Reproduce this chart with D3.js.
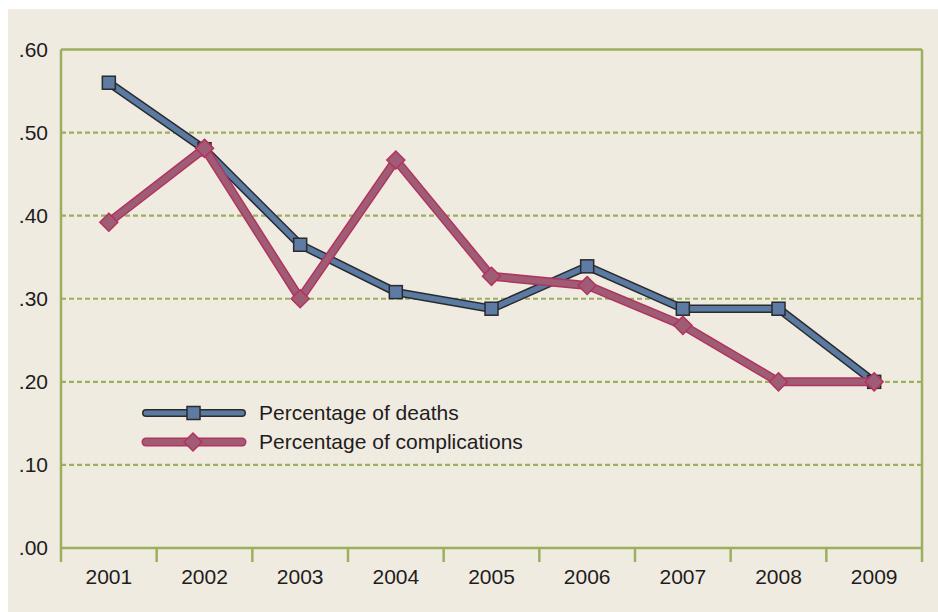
<!DOCTYPE html>
<html><head><meta charset="utf-8">
<script src="https://cdn.jsdelivr.net/npm/d3@7"></script>
<style>html,body{margin:0;padding:0;background:#fff;}svg{display:block;}</style>
</head><body>
<script>
const years = ["2001","2002","2003","2004","2005","2006","2007","2008","2009"];
const deaths = [0.56, 0.48, 0.365, 0.308, 0.288, 0.339, 0.288, 0.288, 0.20];
const complications = [0.392, 0.481, 0.30, 0.467, 0.327, 0.316, 0.268, 0.20, 0.20];
const yTicks = [0, 0.1, 0.2, 0.3, 0.4, 0.5, 0.6];
const seriesNames = ["Percentage of deaths", "Percentage of complications"];

const W = 938, H = 612;
const m = {left: 61, right: 922, top: 49.5, bottom: 548};
const svg = d3.select("body").append("svg").attr("width", W).attr("height", H);
svg.append("rect").attr("x", 8).attr("y", 9).attr("width", W - 8).attr("height", H - 9).attr("fill", "#efebe1");

const x = d3.scaleBand().domain(years).range([m.left, m.right]);
const y = d3.scaleLinear().domain([0, 0.6]).range([m.bottom, m.top]);
const olive = "#9daf5f";
const font = "Liberation Sans, Arial, sans-serif";
const fs = 21;
const txt = "#1f1c1d";

// grid
svg.append("g").selectAll("line").data(yTicks.filter(d => d > 0 && d < 0.6)).join("line")
  .attr("x1", m.left).attr("x2", m.right)
  .attr("y1", d => y(d)).attr("y2", d => y(d))
  .attr("stroke", olive).attr("stroke-width", 2.2).attr("stroke-dasharray", "5,3");

// frame top/right
svg.append("line").attr("x1", m.left).attr("x2", m.right).attr("y1", m.top).attr("y2", m.top)
  .attr("stroke", olive).attr("stroke-width", 2.5);
svg.append("line").attr("x1", m.right).attr("x2", m.right).attr("y1", m.top).attr("y2", m.bottom + 14)
  .attr("stroke", olive).attr("stroke-width", 2.5);

// y axis
const yAxis = svg.append("g").attr("transform", `translate(${m.left},0)`)
  .call(d3.axisLeft(y).tickValues(yTicks).tickSize(0).tickPadding(13)
    .tickFormat(d => d3.format(".2f")(d).replace(/^0/, "")));
yAxis.select(".domain").attr("stroke", olive).attr("stroke-width", 2.5).attr("d", `M0,${m.top}V${m.bottom + 14}`);
yAxis.selectAll("text").attr("font-family", font).attr("font-size", fs).attr("fill", txt);

// x axis
const xAxis = svg.append("g").attr("transform", `translate(0,${m.bottom})`)
  .call(d3.axisBottom(x).tickSize(0).tickPadding(21));
xAxis.select(".domain").attr("stroke", olive).attr("stroke-width", 2.5).attr("d", `M${m.left},0H${m.right}`);
xAxis.selectAll("text").attr("font-family", font).attr("font-size", fs).attr("fill", txt);
xAxis.append("g").selectAll("line").data(years.slice(1)).join("line")
  .attr("x1", d => x(d)).attr("x2", d => x(d)).attr("y1", 0).attr("y2", 14)
  .attr("stroke", olive).attr("stroke-width", 2.5);

const line = d3.line().x((d, i) => x(years[i]) + x.bandwidth() / 2).y(d => y(d));

// deaths
svg.append("path").datum(deaths).attr("d", line).attr("fill", "none")
  .attr("stroke", "#2b2b2e").attr("stroke-width", 8.5).attr("stroke-linejoin", "round");
svg.append("path").datum(deaths).attr("d", line).attr("fill", "none")
  .attr("stroke", "#5a7aa2").attr("stroke-width", 5.5).attr("stroke-linejoin", "round");
svg.append("g").selectAll("rect").data(deaths).join("rect")
  .attr("x", (d, i) => x(years[i]) + x.bandwidth() / 2 - 6.5).attr("y", d => y(d) - 6.5)
  .attr("width", 13).attr("height", 13)
  .attr("fill", "#5d7ba3").attr("stroke", "#2b2b2e").attr("stroke-width", 1.5);

// complications
svg.append("path").datum(complications).attr("d", line).attr("fill", "none")
  .attr("stroke", "#b3325f").attr("stroke-width", 9).attr("stroke-linejoin", "round");
svg.append("path").datum(complications).attr("d", line).attr("fill", "none")
  .attr("stroke", "#9f5d75").attr("stroke-width", 6).attr("stroke-linejoin", "round");
const diamond = "M0,-9L9,0L0,9L-9,0Z";
svg.append("g").selectAll("path").data(complications).join("path")
  .attr("transform", (d, i) => `translate(${x(years[i]) + x.bandwidth() / 2},${y(d)})`)
  .attr("d", diamond).attr("fill", "#9f5d75").attr("stroke", "#b3325f").attr("stroke-width", 1.5);

// legend
const lg = svg.append("g");
const ly = [413, 442];
lg.append("line").attr("x1", 146).attr("x2", 242).attr("y1", ly[0]).attr("y2", ly[0])
  .attr("stroke", "#2b2b2e").attr("stroke-width", 8).attr("stroke-linecap", "round");
lg.append("line").attr("x1", 146).attr("x2", 242).attr("y1", ly[0]).attr("y2", ly[0])
  .attr("stroke", "#5a7aa2").attr("stroke-width", 5).attr("stroke-linecap", "round");
lg.append("rect").attr("x", 187).attr("y", ly[0] - 6.5).attr("width", 13).attr("height", 13)
  .attr("fill", "#5d7ba3").attr("stroke", "#2b2b2e").attr("stroke-width", 1.5);
lg.append("line").attr("x1", 146).attr("x2", 242).attr("y1", ly[1]).attr("y2", ly[1])
  .attr("stroke", "#b3325f").attr("stroke-width", 9).attr("stroke-linecap", "round");
lg.append("line").attr("x1", 146).attr("x2", 242).attr("y1", ly[1]).attr("y2", ly[1])
  .attr("stroke", "#9f5d75").attr("stroke-width", 6).attr("stroke-linecap", "round");
lg.append("path").attr("transform", `translate(193,${ly[1]})`).attr("d", diamond)
  .attr("fill", "#9f5d75").attr("stroke", "#b3325f").attr("stroke-width", 1.5);
lg.selectAll("text").data(seriesNames).join("text")
  .attr("x", 259).attr("y", (d, i) => ly[i]).attr("dy", "0.35em")
  .attr("font-family", font).attr("font-size", fs).attr("fill", txt).text(d => d);
</script>
</body></html>
